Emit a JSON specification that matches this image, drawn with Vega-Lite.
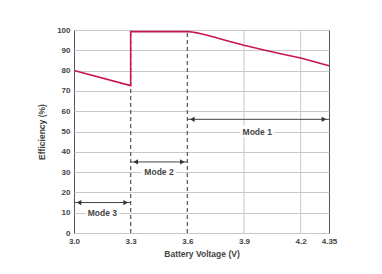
{
  "$schema": "https://vega.github.io/schema/vega-lite/v6.json",
  "autosize": "none",
  "width": 255,
  "height": 203,
  "padding": {"left": 74, "top": 30, "right": 53, "bottom": 41},
  "background": "white",
  "config": {
    "view": {"stroke": "#555", "strokeWidth": 1},
    "font": "Liberation Sans",
    "axisY": {"labelOverlap": false, "tickCount": 11, "gridColor": "#c8c8c8"}
  },
  "datasets": {
    "curve": [
      {"i": 0, "v": 3.0, "eff": 80.0},
      {"i": 1, "v": 3.3, "eff": 72.6},
      {"i": 2, "v": 3.3, "eff": 99.2},
      {"i": 3, "v": 3.6, "eff": 99.2},
      {"i": 4, "v": 3.625, "eff": 99.0},
      {"i": 5, "v": 3.65, "eff": 98.6},
      {"i": 6, "v": 3.7, "eff": 97.5},
      {"i": 7, "v": 3.75, "eff": 96.3},
      {"i": 8, "v": 3.8, "eff": 95.0},
      {"i": 9, "v": 3.9, "eff": 92.5},
      {"i": 10, "v": 4.0, "eff": 90.3},
      {"i": 11, "v": 4.1, "eff": 88.2},
      {"i": 12, "v": 4.2, "eff": 86.2},
      {"i": 13, "v": 4.35, "eff": 82.4}
    ],
    "dash": [{"v": 3.3}, {"v": 3.6}],
    "vgrid": [{"v": 3.9}, {"v": 4.2}],
    "arrows": [
      {"x1": 3.0, "x2": 3.3, "y": 15},
      {"x1": 3.3, "x2": 3.6, "y": 35},
      {"x1": 3.6, "x2": 4.35, "y": 56}
    ],
    "labels": [
      {"label": "Mode 3", "x": 3.15, "y": 10, "xa": 3.06, "xb": 3.24, "ya": 7.2, "yb": 12.8},
      {"label": "Mode 2", "x": 3.45, "y": 30, "xa": 3.36, "xb": 3.54, "ya": 27.2, "yb": 32.8},
      {"label": "Mode 1", "x": 3.97, "y": 50, "xa": 3.88, "xb": 4.06, "ya": 47.2, "yb": 52.8}
    ]
  },
  "layer": [
    {
      "data": {"name": "curve"},
      "mark": {"type": "line", "color": "#c8174b", "strokeWidth": 1.6, "opacity": 0},
      "encoding": {
        "x": {"field": "v", "type": "quantitative", "scale": {"domain": [3.0, 4.35], "nice": false, "zero": false},
          "axis": {
            "values": [3.0, 3.3, 3.6, 3.9, 4.2, 4.35],
            "labelExpr": "datum.value == 4.35 ? '4.35' : format(datum.value, '.1f')",
            "labelOverlap": false,
            "grid": false, "ticks": false, "domain": false,
            "labelFont": "Liberation Sans", "labelFontSize": 8, "labelFontWeight": "bold", "labelColor": "#444",
            "labelPadding": 4, "labelFlush": false,
            "title": "Battery Voltage (V)", "titleFont": "Liberation Sans", "titleFontSize": 8.5, "titleFontWeight": "bold",
            "titleColor": "#444", "titlePadding": 4
          }},
        "y": {"field": "eff", "type": "quantitative", "scale": {"domain": [0, 100], "nice": false},
          "axis": {
            "values": [0, 10, 20, 30, 40, 50, 60, 70, 80, 90, 100],
            "labelOverlap": false,
            "grid": true, "gridColor": "#c8c8c8", "gridWidth": 1,
            "ticks": false, "domain": false,
            "labelFont": "Liberation Sans", "labelFontSize": 8, "labelFontWeight": "bold", "labelColor": "#444",
            "labelPadding": 4,
            "title": "Efficiency (%)", "titleFont": "Liberation Sans", "titleFontSize": 8.5, "titleFontWeight": "bold",
            "titleColor": "#444", "titlePadding": 10
          }},
        "order": {"field": "i", "type": "quantitative"}
      }
    },
    {
      "data": {"name": "vgrid"},
      "mark": {"type": "rule", "color": "#c8c8c8", "strokeWidth": 1},
      "encoding": {
        "x": {"field": "v", "type": "quantitative"},
        "y": {"datum": 0, "type": "quantitative"},
        "y2": {"datum": 100}
      }
    },
    {
      "data": {"name": "dash"},
      "mark": {"type": "rule", "color": "#555", "strokeWidth": 1.2, "strokeDash": [4, 3]},
      "encoding": {
        "x": {"field": "v", "type": "quantitative"},
        "y": {"datum": 0, "type": "quantitative"},
        "y2": {"datum": 100}
      }
    },
    {
      "data": {"name": "labels"},
      "mark": {"type": "rect", "fill": "white"},
      "encoding": {
        "x": {"field": "xa", "type": "quantitative"},
        "x2": {"field": "xb"},
        "y": {"field": "ya", "type": "quantitative"},
        "y2": {"field": "yb"}
      }
    },
    {
      "data": {"name": "labels"},
      "mark": {"type": "text", "font": "Liberation Sans", "fontSize": 8.5, "fontWeight": "bold", "color": "#444", "baseline": "middle"},
      "encoding": {
        "x": {"field": "x", "type": "quantitative"},
        "y": {"field": "y", "type": "quantitative"},
        "text": {"field": "label"}
      }
    },
    {
      "data": {"name": "arrows"},
      "mark": {"type": "rule", "color": "#444", "strokeWidth": 1},
      "encoding": {
        "x": {"field": "x1", "type": "quantitative"},
        "x2": {"field": "x2"},
        "y": {"field": "y", "type": "quantitative"}
      }
    },
    {
      "data": {"name": "arrows"},
      "mark": {"type": "point", "shape": "triangle-left", "filled": true, "color": "#333", "size": 28, "opacity": 1, "xOffset": 5},
      "encoding": {
        "x": {"field": "x1", "type": "quantitative"},
        "y": {"field": "y", "type": "quantitative"}
      }
    },
    {
      "data": {"name": "arrows"},
      "mark": {"type": "point", "shape": "triangle-right", "filled": true, "color": "#333", "size": 28, "opacity": 1, "xOffset": -5},
      "encoding": {
        "x": {"field": "x2", "type": "quantitative"},
        "y": {"field": "y", "type": "quantitative"}
      }
    },
    {
      "data": {"name": "curve"},
      "mark": {"type": "line", "color": "#c8174b", "strokeWidth": 1.6},
      "encoding": {
        "x": {"field": "v", "type": "quantitative"},
        "y": {"field": "eff", "type": "quantitative"},
        "order": {"field": "i", "type": "quantitative"}
      }
    }
  ]
}
